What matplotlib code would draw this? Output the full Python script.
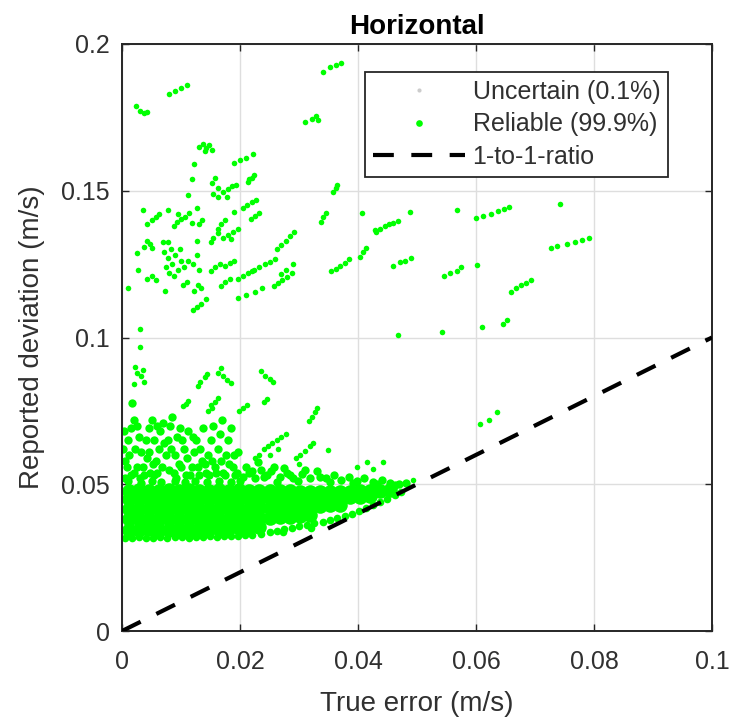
import matplotlib
matplotlib.use("Agg")
import matplotlib.pyplot as plt

plt.rcParams['font.family'] = ['Liberation Sans', 'DejaVu Sans']

# ---------------- data ----------------
# sparse upper points (small dots)
sparse_x = [0.0340, 0.0352, 0.0362, 0.0372,
            0.0080, 0.0090, 0.0100, 0.0110,
            0.0023, 0.0030, 0.0038, 0.0043,
            0.0311, 0.0322, 0.0328, 0.0333,
            0.0130, 0.0137, 0.0143, 0.0148, 0.0152, 0.0140,
            0.0190, 0.0200, 0.0210, 0.0222,
            0.0122, 0.0119,
            0.0152, 0.0157, 0.0162,
            0.0172, 0.0180, 0.0187, 0.0194, 0.0178,
            0.0213, 0.0220, 0.0223, 0.0215,
            0.0112, 0.0155, 0.0163,
            0.0358, 0.0362, 0.0365,
            0.0036,
            0.0043, 0.0050, 0.0057, 0.0063,
            0.0078,
            0.0088, 0.0094, 0.0100, 0.0107, 0.0113, 0.0118, 0.0095,
            0.0127, 0.0130, 0.0135,
            0.0162, 0.0168, 0.0175,
            0.0190,
            0.0205, 0.0212, 0.0220, 0.0227,
            0.0218, 0.0225, 0.0232,
            0.0337, 0.0340, 0.0345,
            0.0407, 0.0429, 0.0025,
            0.0037, 0.0042, 0.0048, 0.0051,
            0.0070, 0.0078,
            0.0072, 0.0078, 0.0085, 0.0090, 0.0095, 0.0080, 0.0100, 0.0088, 0.0075, 0.0098, 0.0083,
            0.0027,
            0.0043, 0.0050, 0.0057,
            0.0073, 0.0010,
            0.0105, 0.0112, 0.0120, 0.0127, 0.0130,
            0.0103, 0.0110,
            0.0122, 0.0128, 0.0134,
            0.0120, 0.0127, 0.0134, 0.0142,
            0.0030, 0.0127,
            0.0150, 0.0155, 0.0162,
            0.0172, 0.0180, 0.0188, 0.0196, 0.0185,
            0.0150, 0.0158, 0.0166, 0.0175, 0.0183, 0.0190,
            0.0168, 0.0175, 0.0183,
            0.0196, 0.0205, 0.0213, 0.0220,
            0.0197, 0.0210, 0.0225, 0.0238,
            0.0223, 0.0232, 0.0242, 0.0250, 0.0260,
            0.0258, 0.0265, 0.0272, 0.0280, 0.0288, 0.0270, 0.0278, 0.0290,
            0.0262, 0.0270, 0.0278, 0.0285, 0.0292,
            0.0355, 0.0362, 0.0370, 0.0378, 0.0385,
            0.0404, 0.0408, 0.0413,
            0.0430, 0.0438, 0.0445, 0.0452, 0.0460, 0.0467,
            0.0488, 0.0568,
            0.0600, 0.0612, 0.0625, 0.0638, 0.0648, 0.0656,
            0.0742,
            0.0727, 0.0738, 0.0755, 0.0768, 0.0780, 0.0792,
            0.0460, 0.0472, 0.0480, 0.0490,
            0.0545, 0.0556, 0.0568, 0.0575,
            0.0602,
            0.0660, 0.0668, 0.0676, 0.0685, 0.0694,
            0.0468, 0.0542, 0.0610, 0.0646, 0.0652,
            0.0030,
            0.0022, 0.0025, 0.0032, 0.0038, 0.0036, 0.0020,
            0.0128, 0.0133, 0.0140, 0.0144,
            0.0162, 0.0168, 0.0172, 0.0178, 0.0185,
            0.0236, 0.0243, 0.0250, 0.0256,
            0.0103, 0.0108, 0.0112,
            0.0146, 0.0152, 0.0158, 0.0162, 0.0150,
            0.0198, 0.0205, 0.0212,
            0.0240, 0.0245,
            0.0317, 0.0322, 0.0327, 0.0331,
            0.0607, 0.0622, 0.0636,
            0.0225, 0.0232, 0.0240, 0.0248, 0.0255, 0.0262, 0.0270, 0.0278, 0.0265, 0.0250,
            0.0295, 0.0302, 0.0310, 0.0318, 0.0324, 0.0300,
            0.0349,
            0.0398, 0.0415, 0.0425, 0.0442,
            0.0493]
sparse_y = [0.1905, 0.1920, 0.1928, 0.1935,
            0.1830, 0.1840, 0.1850, 0.1860,
            0.1790, 0.1770, 0.1765, 0.1768,
            0.1735, 0.1745, 0.1755, 0.1740,
            0.1650, 0.1660, 0.1645, 0.1655, 0.1640, 0.1635,
            0.1595, 0.1605, 0.1610, 0.1625,
            0.1590, 0.1540,
            0.1525, 0.1545, 0.1510,
            0.1495, 0.1505, 0.1515, 0.1520, 0.1480,
            0.1530, 0.1545, 0.1555, 0.1540,
            0.1485, 0.1490, 0.1478,
            0.1495, 0.1510, 0.1520,
            0.1434,
            0.1385, 0.1400, 0.1410, 0.1420,
            0.1434,
            0.1380, 0.1395, 0.1405, 0.1412, 0.1425, 0.1390, 0.1420,
            0.1440, 0.1385, 0.1400,
            0.1370, 0.1385, 0.1400,
            0.1428,
            0.1440, 0.1450, 0.1460, 0.1470,
            0.1405, 0.1415, 0.1425,
            0.1395, 0.1410, 0.1425,
            0.1424, 0.1366, 0.1288,
            0.1310, 0.1330, 0.1320, 0.1305,
            0.1325, 0.1325,
            0.1290, 0.1270, 0.1250, 0.1280, 0.1230, 0.1220, 0.1260, 0.1210, 0.1240, 0.1300, 0.1300,
            0.1230,
            0.1200, 0.1210, 0.1195,
            0.1160, 0.1170,
            0.1240, 0.1260, 0.1250, 0.1280, 0.1230,
            0.1180, 0.1190,
            0.1160, 0.1180, 0.1170,
            0.1095, 0.1105, 0.1115, 0.1130,
            0.1030, 0.1330,
            0.1325, 0.1340, 0.1355,
            0.1340, 0.1350, 0.1360, 0.1370, 0.1335,
            0.1225, 0.1240, 0.1250, 0.1245, 0.1255, 0.1260,
            0.1175, 0.1190, 0.1200,
            0.1200, 0.1210, 0.1220, 0.1228,
            0.1135, 0.1145, 0.1155, 0.1170,
            0.1230, 0.1240, 0.1250, 0.1258, 0.1268,
            0.1175, 0.1185, 0.1195, 0.1205, 0.1220, 0.1215, 0.1230, 0.1250,
            0.1300, 0.1315, 0.1330, 0.1345, 0.1360,
            0.1225, 0.1235, 0.1245, 0.1255, 0.1268,
            0.1275, 0.1290, 0.1305,
            0.1360, 0.1370, 0.1380, 0.1385, 0.1390, 0.1398,
            0.1428, 0.1434,
            0.1407, 0.1415, 0.1420, 0.1430, 0.1438, 0.1445,
            0.1455,
            0.1305, 0.1312, 0.1320, 0.1325, 0.1332, 0.1340,
            0.1245, 0.1258, 0.1262, 0.1270,
            0.1210, 0.1220, 0.1228, 0.1240,
            0.1247,
            0.1155, 0.1168, 0.1178, 0.1185, 0.1195,
            0.1008, 0.1019, 0.1036, 0.1045, 0.1060,
            0.0968,
            0.0900, 0.0880, 0.0870, 0.0850, 0.0890, 0.0840,
            0.0835, 0.0850, 0.0865, 0.0875,
            0.0880, 0.0895, 0.0870, 0.0855, 0.0845,
            0.0885, 0.0870, 0.0860, 0.0850,
            0.0765, 0.0775, 0.0785,
            0.0750, 0.0760, 0.0780, 0.0795, 0.0770,
            0.0750, 0.0760, 0.0770,
            0.0780, 0.0790,
            0.0715, 0.0730, 0.0745, 0.0760,
            0.0705, 0.0719, 0.0746,
            0.0590, 0.0600, 0.0620, 0.0630, 0.0640, 0.0650, 0.0660, 0.0670, 0.0620, 0.0600,
            0.0590, 0.0600, 0.0615, 0.0630, 0.0640, 0.0570,
            0.0617,
            0.0559, 0.0576, 0.0552, 0.0576,
            0.0514]

# spiky region just above the dense cloud (medium dots)
spike_x = [0.0005, 0.0008, 0.0012, 0.0010, 0.0015, 0.0020, 0.0017, 0.0005, 0.0020,
           0.0030, 0.0035, 0.0033, 0.0040, 0.0045, 0.0050, 0.0042, 0.0048,
           0.0055, 0.0058, 0.0062, 0.0065, 0.0070, 0.0068, 0.0075, 0.0078, 0.0082, 0.0085,
           0.0088, 0.0090, 0.0094, 0.0098, 0.0100, 0.0105, 0.0108, 0.0112,
           0.0118, 0.0122, 0.0126, 0.0130, 0.0135, 0.0138,
           0.0142, 0.0146, 0.0150, 0.0155, 0.0158, 0.0162, 0.0166, 0.0170, 0.0172,
           0.0176, 0.0180, 0.0185, 0.0188, 0.0192, 0.0196,
           0.0205, 0.0215, 0.0225, 0.0235, 0.0245, 0.0258, 0.0268, 0.0280, 0.0290,
           0.0305, 0.0318, 0.0330, 0.0345, 0.0360, 0.0372, 0.0385, 0.0398, 0.0410,
           0.0425, 0.0440, 0.0455, 0.0470, 0.0482,
           0.0015, 0.0025, 0.0022, 0.0028, 0.0038, 0.0045, 0.0052, 0.0055, 0.0060,
           0.0072, 0.0080, 0.0083, 0.0092, 0.0096, 0.0102, 0.0110, 0.0115, 0.0120,
           0.0128, 0.0132, 0.0140, 0.0148, 0.0153, 0.0160, 0.0168, 0.0175, 0.0182,
           0.0190, 0.0195, 0.0210, 0.0220, 0.0230, 0.0240, 0.0252, 0.0275, 0.0285,
           0.0310, 0.0335, 0.0002, 0.0003, 0.0025, 0.0060,
           0.0010, 0.0032, 0.0050, 0.0066, 0.0090, 0.0106, 0.0124, 0.0144, 0.0164,
           0.0184, 0.0200, 0.0262, 0.0298, 0.0352, 0.0392, 0.0432, 0.0462]
spike_y = [0.0520, 0.0560, 0.0600, 0.0650, 0.0690, 0.0720, 0.0777, 0.0580, 0.0540,
           0.0520, 0.0560, 0.0610, 0.0650, 0.0690, 0.0720, 0.0590, 0.0540,
           0.0530, 0.0580, 0.0620, 0.0680, 0.0710, 0.0560, 0.0600, 0.0650, 0.0700, 0.0730,
           0.0540, 0.0600, 0.0660, 0.0690, 0.0560, 0.0620, 0.0530, 0.0680,
           0.0560, 0.0610, 0.0650, 0.0530, 0.0580, 0.0690,
           0.0540, 0.0600, 0.0650, 0.0700, 0.0560, 0.0620, 0.0670, 0.0720, 0.0540,
           0.0600, 0.0650, 0.0690, 0.0560, 0.0530, 0.0610,
           0.0525, 0.0540, 0.0520, 0.0550, 0.0530, 0.0560, 0.0525, 0.0540, 0.0520,
           0.0535, 0.0520, 0.0545, 0.0520, 0.0530, 0.0515, 0.0525, 0.0510, 0.0520,
           0.0508, 0.0515, 0.0505, 0.0500, 0.0505,
           0.0530, 0.0560, 0.0620, 0.0660, 0.0530, 0.0610, 0.0570, 0.0650, 0.0540,
           0.0640, 0.0550, 0.0620, 0.0520, 0.0570, 0.0650, 0.0590, 0.0530, 0.0660,
           0.0560, 0.0620, 0.0570, 0.0530, 0.0580, 0.0540, 0.0580, 0.0530, 0.0570,
           0.0600, 0.0540, 0.0560, 0.0545, 0.0575, 0.0525, 0.0545, 0.0555, 0.0530,
           0.0550, 0.0525, 0.0620, 0.0680, 0.0700, 0.0700,
           0.0510, 0.0505, 0.0512, 0.0508, 0.0510, 0.0506, 0.0512, 0.0508, 0.0510,
           0.0506, 0.0512, 0.0508, 0.0510, 0.0506, 0.0503, 0.0500, 0.0498]

# dense cloud core (large dots)
core_x = [0.0012, 0.0029, 0.0046, 0.0063, 0.0080, 0.0097, 0.0114, 0.0131, 0.0148, 0.0165, 0.0182, 0.0199, 0.0216, 0.0233,
          0.0012, 0.0029, 0.0046, 0.0063, 0.0080, 0.0097, 0.0114, 0.0131, 0.0148, 0.0165, 0.0182, 0.0199, 0.0216, 0.0233,
          0.0250, 0.0267, 0.0284, 0.0301, 0.0318,
          0.0012, 0.0029, 0.0046, 0.0063, 0.0080, 0.0097, 0.0114, 0.0131, 0.0148, 0.0165, 0.0182, 0.0199, 0.0216, 0.0233,
          0.0250, 0.0267, 0.0284, 0.0301, 0.0318, 0.0335, 0.0352, 0.0369,
          0.0012, 0.0029, 0.0046, 0.0063, 0.0080, 0.0097, 0.0114, 0.0131, 0.0148, 0.0165, 0.0182, 0.0199, 0.0216, 0.0233,
          0.0250, 0.0267, 0.0284, 0.0301, 0.0318, 0.0335, 0.0352, 0.0369, 0.0386, 0.0403, 0.0420,
          0.0012, 0.0029, 0.0046, 0.0063, 0.0080, 0.0097, 0.0114, 0.0131, 0.0148, 0.0165, 0.0182, 0.0199, 0.0216, 0.0233,
          0.0250, 0.0267, 0.0284, 0.0301, 0.0318, 0.0335, 0.0352, 0.0369, 0.0386, 0.0403, 0.0420, 0.0437, 0.0454]
core_y = [0.0345, 0.0343, 0.0346, 0.0344, 0.0345, 0.0347, 0.0345, 0.0346, 0.0348, 0.0349, 0.0350, 0.0352, 0.0353, 0.0356,
          0.0380, 0.0382, 0.0379, 0.0381, 0.0380, 0.0383, 0.0381, 0.0382, 0.0380, 0.0383, 0.0382, 0.0384, 0.0383, 0.0385,
          0.0386, 0.0388, 0.0390, 0.0392, 0.0395,
          0.0415, 0.0417, 0.0414, 0.0416, 0.0415, 0.0418, 0.0416, 0.0415, 0.0417, 0.0416, 0.0418, 0.0415, 0.0417, 0.0418,
          0.0419, 0.0420, 0.0421, 0.0423, 0.0424, 0.0426, 0.0428, 0.0431,
          0.0450, 0.0452, 0.0449, 0.0451, 0.0450, 0.0453, 0.0451, 0.0450, 0.0452, 0.0451, 0.0453, 0.0450, 0.0452, 0.0451,
          0.0452, 0.0451, 0.0453, 0.0452, 0.0454, 0.0453, 0.0455, 0.0454, 0.0456, 0.0457, 0.0459,
          0.0478, 0.0479, 0.0477, 0.0478, 0.0480, 0.0478, 0.0479, 0.0477, 0.0478, 0.0480, 0.0478, 0.0479, 0.0477, 0.0478,
          0.0477, 0.0476, 0.0476, 0.0475, 0.0475, 0.0474, 0.0474, 0.0475, 0.0475, 0.0476, 0.0477, 0.0478, 0.0479]

# lower edge of the dense cloud (medium dots)
edge_x = [0.0005, 0.0017, 0.0029, 0.0041, 0.0053, 0.0065, 0.0077, 0.0089, 0.0101, 0.0113, 0.0125,
          0.0137, 0.0149, 0.0161, 0.0173, 0.0185, 0.0197, 0.0209, 0.0221,
          0.0235, 0.0250, 0.0262, 0.0275, 0.0288, 0.0300, 0.0313, 0.0326, 0.0340,
          0.0352, 0.0365, 0.0378, 0.0390, 0.0402, 0.0414, 0.0426, 0.0438, 0.0450, 0.0462, 0.0473,
          0.0273, 0.0320]
edge_y = [0.0318, 0.0316, 0.0319, 0.0317, 0.0318, 0.0320, 0.0317, 0.0319, 0.0320, 0.0318, 0.0321,
          0.0320, 0.0322, 0.0321, 0.0323, 0.0322, 0.0325, 0.0326, 0.0328,
          0.0332, 0.0337, 0.0342, 0.0346, 0.0352, 0.0357, 0.0362, 0.0367, 0.0372,
          0.0378, 0.0385, 0.0392, 0.0400, 0.0410, 0.0420, 0.0430, 0.0438, 0.0450, 0.0462, 0.0472,
          0.0337, 0.0350]

uncertain_x = []
uncertain_y = []

ratio_x = [0.0, 0.1]
ratio_y = [0.0, 0.1]

x_ticks = [0, 0.02, 0.04, 0.06, 0.08, 0.1]
x_tick_labels = ['0', '0.02', '0.04', '0.06', '0.08', '0.1']
y_ticks = [0, 0.05, 0.1, 0.15, 0.2]
y_tick_labels = ['0', '0.05', '0.1', '0.15', '0.2']

# ---------------- figure ----------------
GREEN = '#00ff00'
TXT = '#303030'
fig = plt.figure(figsize=(7.31, 7.2), dpi=100)
ax = fig.add_axes([0.1669, 0.1236, 0.8071, 0.8153])

h_unc, = ax.plot(uncertain_x, uncertain_y, 'o', color='#cccccc', ms=2.5, mec='none',
                 label='Uncertain (0.1%)')
ax.plot(core_x, core_y, 'o', color=GREEN, ms=10.5, mec='none', zorder=2)
ax.plot(edge_x, edge_y, 'o', color=GREEN, ms=5.5, mec='none', zorder=2)
ax.plot(spike_x, spike_y, 'o', color=GREEN, ms=6, mec='none', zorder=2)
h_rel, = ax.plot(sparse_x, sparse_y, 'o', color=GREEN, ms=4, mec='none', zorder=2,
                 label='Reliable (99.9%)')
h_line, = ax.plot(ratio_x, ratio_y, color='black', lw=3, dashes=(5, 4.2), zorder=3,
                  label='1-to-1-ratio')

ax.set_xlim(0, 0.1)
ax.set_ylim(0, 0.2)
ax.set_xticks(x_ticks)
ax.set_xticklabels(x_tick_labels)
ax.set_yticks(y_ticks)
ax.set_yticklabels(y_tick_labels)
ax.grid(True, color='#dedede', lw=1)
ax.set_axisbelow(True)
ax.tick_params(direction='in', top=True, right=True, length=5, width=1, colors='#262626',
               labelsize=18, labelcolor=TXT)
ax.tick_params(axis='x', pad=14)
ax.tick_params(axis='y', pad=9)
for s in ax.spines.values():
    s.set_color('#262626')
    s.set_linewidth(1.4)

ax.set_xlabel('True error (m/s)', fontsize=20, color=TXT, labelpad=12)
ax.set_ylabel('Reported deviation (m/s)', fontsize=20, color=TXT, labelpad=11)
ax.set_title('Horizontal', fontsize=20, fontweight='bold', pad=7)

leg = ax.legend(handles=[h_unc, h_rel, h_line], loc='upper right',
                bbox_to_anchor=(0.925, 0.952), borderaxespad=0, fontsize=18,
                frameon=True, fancybox=False, framealpha=1, edgecolor='#262626',
                handlelength=3.7, handletextpad=0.3, labelspacing=0.35,
                borderpad=0.3, markerscale=1.2)
leg.get_frame().set_linewidth(1.3)
for t in leg.get_texts():
    t.set_color(TXT)

fig.savefig('out.png', dpi=100)
